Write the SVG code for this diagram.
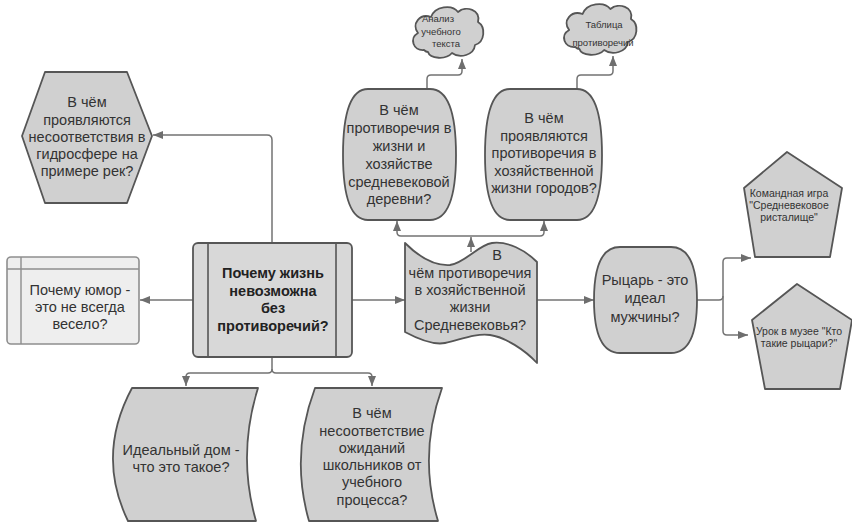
<svg xmlns="http://www.w3.org/2000/svg" width="852" height="525" viewBox="0 0 852 525">
  <defs>
    <marker id="ah" viewBox="0 0 10 8" refX="10" refY="4" markerWidth="10" markerHeight="8" orient="auto" markerUnits="userSpaceOnUse">
      <path d="M0,0 L10,4 L0,8 Z" fill="#6e6e6e"/>
    </marker>
    <path id="cloud" d="M424,50 C413,51 409,38 418,33 C411,24 420,13 431,17 C435,6 452,4 458,12 C466,5 481,10 478,22 C486,27 485,42 475,45 C474,55 460,59 452,53 C446,60 430,59 428,52 C427,52 425,51 424,50 Z"/>
  </defs>
  <style>
    .shape { fill: #d0d0d0; stroke: #565656; stroke-width: 1.8; stroke-linejoin: round; }
    .light { fill: #eeeeee; stroke: #8e8e8e; stroke-width: 1.6; }
    .inner { fill: none; stroke: #565656; stroke-width: 1.6; }
    .innerlight { fill: none; stroke: #8e8e8e; stroke-width: 1.4; }
    .t { font-family: "Liberation Sans", Arial, sans-serif; font-size: 14.5px; fill: #333; text-anchor: middle; }
    .b { font-weight: bold; fill: #222; }
    .s { font-size: 10.5px; }
    .xs { font-size: 9.5px; }
    .conn path { fill: none; stroke: #737373; stroke-width: 1.5; marker-end: url(#ah); }
  </style>

  <rect width="852" height="525" fill="#ffffff"/>

  <!-- connectors -->
  <g id="connectors" class="conn">
    <path d="M272,243 V140 Q272,135 267,135 H153"/>
    <path d="M193,300 H140"/>
    <path d="M352,300 H405"/>
    <path d="M272,357 V369 Q272,373 268,373 H190 Q186,373 186,377 V386"/>
    <path d="M272,369 Q272,373 276,373 H368 Q372,373 372,377 V386"/>
    <path d="M471,252 V237"/>
    <path d="M471,236 H401 Q397,236 397,232 V221"/>
    <path d="M471,236 H540 Q544,236 544,232 V221"/>
    <path d="M427,89 V79 Q427,75 431,75 H458 Q462,75 462,71 V59"/>
    <path d="M577,89 V79 Q577,75 581,75 H609 Q613,75 613,71 V56"/>
    <path d="M537,300 H594"/>
    <path d="M697,300 H719 Q723,300 723,296 V262 Q723,258 727,258 H751"/>
    <path d="M723,296 V331 Q723,335 727,335 H748"/>
  </g>

  <!-- hexagon: rivers -->
  <g id="node-rivers">
    <path class="shape" d="M45,72 H127 L152,136 L127,203 H45 L22,136 Z"/>
    <text class="t" x="87" y="107">В чём</text>
    <text class="t" x="87" y="124.5">проявляются</text>
    <text class="t" x="87" y="142">несоответствия в</text>
    <text class="t" x="87" y="159">гидросфере на</text>
    <text class="t" x="87" y="176">примере рек?</text>
  </g>

  <!-- cloud: text analysis -->
  <g id="node-analysis">
    <use href="#cloud" class="shape"/>
    <text class="t xs" x="438" y="22">Анализ</text>
    <text class="t xs" x="441" y="35">учебного</text>
    <text class="t xs" x="446" y="47">текста</text>
  </g>

  <!-- cloud: table -->
  <g id="node-table">
    <use href="#cloud" class="shape" transform="translate(152,-3) scale(1.03,1) translate(-13,0)"/>
    <text class="t xs" x="604" y="28">Таблица</text>
    <text class="t xs" x="603" y="46">противоречий</text>
  </g>

  <!-- barrel: village -->
  <g id="node-village">
    <path class="shape" d="M368,89 H430 Q456,89 456,155 Q456,220 430,220 H368 Q343,220 343,155 Q343,89 368,89 Z"/>
    <text class="t" x="399" y="115">В чём</text>
    <text class="t" x="399" y="133">противоречия в</text>
    <text class="t" x="399" y="151">жизни и</text>
    <text class="t" x="399" y="169">хозяйстве</text>
    <text class="t" x="399" y="187">средневековой</text>
    <text class="t" x="399" y="204">деревни?</text>
  </g>

  <!-- barrel: towns -->
  <g id="node-towns">
    <path class="shape" d="M510,89 H577 Q602,89 602,155 Q602,220 577,220 H510 Q485,220 485,155 Q485,89 510,89 Z"/>
    <text class="t" x="544" y="123">В чём</text>
    <text class="t" x="544" y="141">проявляются</text>
    <text class="t" x="544" y="158">противоречия в</text>
    <text class="t" x="544" y="176">хозяйственной</text>
    <text class="t" x="544" y="193">жизни городов?</text>
  </g>

  <!-- card: humour -->
  <g id="node-humour">
    <rect class="light" x="7" y="257" width="132" height="87" rx="4"/>
    <path class="innerlight" d="M21,257 V344 M7,269 H139"/>
    <text class="t" x="80" y="295">Почему юмор -</text>
    <text class="t" x="80" y="312">это не всегда</text>
    <text class="t" x="80" y="329">весело?</text>
  </g>

  <!-- central process -->
  <g id="node-central">
    <rect class="shape" x="193" y="243" width="159" height="114" rx="5" style="fill:#d8d8d8"/>
    <path class="inner" d="M208,243 V357 M336,243 V357"/>
    <text class="t b" x="273" y="278">Почему жизнь</text>
    <text class="t b" x="273" y="296">невозможна</text>
    <text class="t b" x="273" y="313">без</text>
    <text class="t b" x="273" y="331">противоречий?</text>
  </g>

  <!-- document: Middle Ages -->
  <g id="node-middleages">
    <path class="shape" d="M405,243 C420,258 435,266 450,265 C465,263 478,245 492,243 C508,241 525,250 537,262 V363 C525,350 505,337 490,335 C475,333 460,340 445,343 C435,345 420,340 405,332 Z"/>
    <text class="t" x="497" y="260">В</text>
    <text class="t" x="470" y="278">чём противоречия</text>
    <text class="t" x="470" y="295">в хозяйственной</text>
    <text class="t" x="470" y="312">жизни</text>
    <text class="t" x="470" y="330">Средневековья?</text>
  </g>

  <!-- barrel: knight -->
  <g id="node-knight">
    <path class="shape" d="M620,247 H671 Q697,247 697,300 Q697,353 671,353 H620 Q594,353 594,300 Q594,247 620,247 Z"/>
    <text class="t" x="645" y="285">Рыцарь - это</text>
    <text class="t" x="645" y="303">идеал</text>
    <text class="t" x="645" y="322">мужчины?</text>
  </g>

  <!-- pentagon: team game -->
  <g id="node-game">
    <path class="shape" d="M787,152 L842,188 L830,257 H755 L744,188 Z"/>
    <text class="t s" x="789" y="197">Командная игра</text>
    <text class="t s" x="789" y="209">"Средневековое</text>
    <text class="t s" x="789" y="221">ристалище"</text>
  </g>

  <!-- pentagon: museum lesson -->
  <g id="node-museum">
    <path class="shape" d="M797,284 L852,320 L840,389 H765 L752,320 Z"/>
    <text class="t s" x="799" y="335">Урок в музее "Кто</text>
    <text class="t s" x="799" y="347">такие рыцари?"</text>
  </g>

  <!-- stored data: ideal house -->
  <g id="node-house">
    <path class="shape" d="M132,388 H258 Q237,455 256,521 H128 Q96,455 132,388 Z"/>
    <text class="t" x="181" y="455">Идеальный дом -</text>
    <text class="t" x="181" y="472">что это такое?</text>
  </g>

  <!-- stored data: school expectations -->
  <g id="node-school">
    <path class="shape" d="M315,388 H442 Q418,455 438,521 H309 Q290,455 315,388 Z"/>
    <text class="t" x="372" y="418">В чём</text>
    <text class="t" x="372" y="436">несоответствие</text>
    <text class="t" x="372" y="453">ожиданий</text>
    <text class="t" x="372" y="470">школьников от</text>
    <text class="t" x="372" y="487">учебного</text>
    <text class="t" x="372" y="505">процесса?</text>
  </g>
</svg>
